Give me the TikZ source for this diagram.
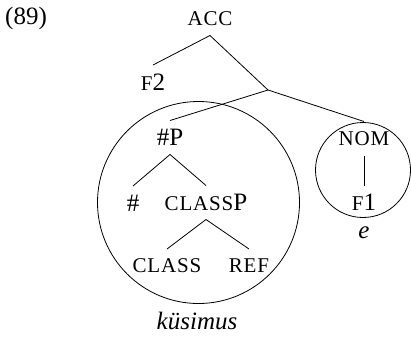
\documentclass[tikz,border=0pt]{standalone}
\usepackage{fontspec}
\setmainfont{Liberation Serif}
\newfontfamily\scf[LetterSpace=4]{Liberation Serif}
\newcommand{\fsc}[1]{{\scf\fontsize{21}{25}\selectfont #1}}
\begin{document}
\begin{tikzpicture}[x=1pt,y=-1pt,
  every node/.style={font=\fontsize{25}{30}\selectfont},
  tn/.style={inner sep=0pt, outer sep=0pt, minimum height=34pt},
  ring/.style={draw, circle, line width=0.8pt, inner sep=0pt},
  br/.style={line width=0.8pt}]
\useasboundingbox (0,0) rectangle (411,337);
% rings
\node[ring, minimum size=202pt] (bigc) at (198.5,202.5) {};
\node[ring, minimum size=95pt] (smallc) at (363,170) {};
% labels
\node[inner sep=0pt, anchor=base west] (ex) at (5,25) {(89)};
\node[tn] (acc) at (210,18.5) {\fsc{ACC}};
\node[tn] (f2) at (153,82) {\fsc{F}2};
\coordinate (m) at (268,90);
\node[tn] (hp) at (170,137.5) {\#P};
\node[tn] (h) at (133,203) {\#};
\node[tn] (cp) at (206,202.5) {\fsc{CLASS}P};
\node[tn] (cl) at (167,266) {\fsc{CLASS}};
\node[tn] (ref) at (249,266) {\fsc{REF}};
\node[tn] (nom) at (364,138.5) {\fsc{NOM}};
\node[tn] (f1) at (364,202.5) {\fsc{F}1};
\node[inner sep=0pt] (e) at (364,233) {\itshape e};
\node[inner sep=0pt] (kus) at (197,321) {\itshape küsimus};
% branches
\draw[br] (acc.south) -- (f2.north);
\draw[br] (acc.south) -- (m);
\draw[br] (m) -- (hp.north);
\draw[br] (m) -- (nom.north);
\draw[br] (hp.south) -- (h.north);
\draw[br] (hp.south) -- (cp.north);
\draw[br] (cp.south) -- (cl.north);
\draw[br] (cp.south) -- (ref.north);
\draw[br] (nom.south) -- (f1.north);
\end{tikzpicture}
\end{document}
